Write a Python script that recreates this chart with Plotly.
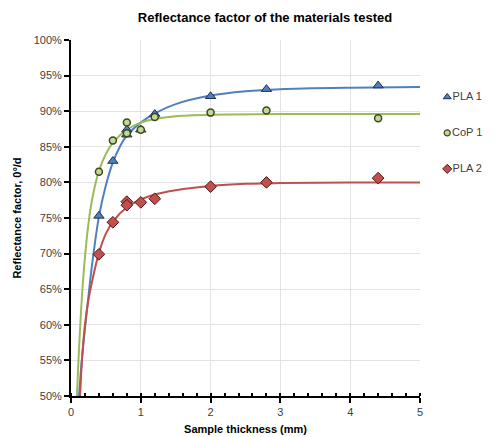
import plotly.graph_objects as go

# Measured points (thickness in mm, reflectance in %)
pla1_x = [0.4, 0.6, 0.8, 0.8, 1.0, 1.2, 2.0, 2.8, 4.4]
pla1_y = [75.3, 83.0, 86.7, 87.4, 87.4, 89.6, 92.1, 93.1, 93.6]
cop1_x = [0.4, 0.6, 0.8, 0.8, 1.0, 1.2, 2.0, 2.8, 4.4]
cop1_y = [81.5, 85.9, 88.4, 86.9, 87.4, 89.2, 89.8, 90.1, 89.0]
pla2_x = [0.4, 0.6, 0.8, 0.8, 1.0, 1.2, 2.0, 2.8, 4.4]
pla2_y = [69.9, 74.4, 77.3, 76.8, 77.2, 77.7, 79.4, 80.0, 80.6]

# Fitted trend curves
pla1_fit_x = [0.115, 0.15, 0.2, 0.25, 0.3, 0.4, 0.5, 0.6, 0.7, 0.8, 1.0, 1.2, 1.5, 2.0, 2.5, 3.0, 4.0, 5.0]
pla1_fit_y = [50, 54.5, 59.5, 64.0, 68.3, 75.2, 79.6, 82.8, 85.0, 86.6, 88.4, 89.7, 91.0, 92.2, 92.8, 93.1, 93.3, 93.4]
cop1_fit_x = [0.085, 0.1, 0.13, 0.16, 0.2, 0.25, 0.3, 0.4, 0.5, 0.6, 0.8, 1.0, 1.2, 1.5, 2.0, 3.0, 5.0]
cop1_fit_y = [50, 53.5, 59.5, 64.5, 69.5, 74.2, 77.5, 81.6, 84.0, 85.6, 87.4, 88.4, 88.9, 89.3, 89.5, 89.6, 89.6]
pla2_fit_x = [0.13, 0.16, 0.2, 0.25, 0.3, 0.4, 0.5, 0.6, 0.8, 1.0, 1.2, 1.5, 2.0, 2.5, 3.0, 4.0, 5.0]
pla2_fit_y = [50, 55.5, 60.0, 63.5, 66.0, 70.1, 72.8, 74.5, 76.5, 77.6, 78.3, 78.9, 79.5, 79.8, 79.9, 80.0, 80.0]

series_names = ["PLA 1", "CoP 1", "PLA 2"]
y_ticks = [50, 55, 60, 65, 70, 75, 80, 85, 90, 95, 100]
y_labels = ["50%", "55%", "60%", "65%", "70%", "75%", "80%", "85%", "90%", "95%", "100%"]
x_ticks = [0, 1, 2, 3, 4, 5]

BLUE = "#4F81BD"
GREEN = "#9BBB59"
RED = "#C0504D"

markers = [
    dict(symbol="triangle-up", size=9, color=BLUE, line=dict(color="#1F2F4F", width=1)),
    dict(symbol="circle", size=7, color="#C4D79B", line=dict(color="#3A4A1A", width=1.5)),
    dict(symbol="diamond", size=9, color=RED, line=dict(color="#4A1A1A", width=1)),
]
legend_markers = [
    dict(symbol="triangle-up", size=7, color=BLUE, line=dict(color="#1F2F4F", width=1)),
    dict(symbol="circle", size=6, color="#C4D79B", line=dict(color="#3A4A1A", width=1.2)),
    dict(symbol="diamond", size=7, color=RED, line=dict(color="#4A1A1A", width=1)),
]

fig = go.Figure()

for fx, fy, col in [(pla1_fit_x, pla1_fit_y, BLUE), (cop1_fit_x, cop1_fit_y, GREEN), (pla2_fit_x, pla2_fit_y, RED)]:
    fig.add_trace(go.Scatter(x=fx, y=fy, mode="lines", line=dict(color=col, width=2, shape="spline", smoothing=0.8),
                             showlegend=False, hoverinfo="skip"))

for name, xs, ys, mk in zip(series_names, [pla1_x, cop1_x, pla2_x], [pla1_y, cop1_y, pla2_y], markers):
    fig.add_trace(go.Scatter(x=xs, y=ys, mode="markers", name=name, marker=mk, showlegend=False))

# Legend drawn on a side axis (rows top to bottom)
legend_rows = [2, 1, 0]
for name, row, mk in zip(series_names, legend_rows, legend_markers):
    fig.add_trace(go.Scatter(x=[0.18], y=[row], mode="markers+text", text=[name], textposition="middle right",
                             textfont=dict(size=11, color="#404040"), marker=mk, xaxis="x2", yaxis="y2",
                             showlegend=False, hoverinfo="skip", cliponaxis=False))

fig.update_layout(
    width=500, height=437,
    margin=dict(l=71, r=0, t=40, b=41, autoexpand=False),
    paper_bgcolor="white", plot_bgcolor="white",
    font=dict(family="Liberation Sans, Arial, sans-serif", size=11, color="#404040"),
    title=dict(text="<b>Reflectance factor of the materials tested</b>", x=0.53, xanchor="center",
               y=1 - 17 / 437, yanchor="middle", font=dict(size=13, color="#000000")),
    showlegend=False,
    xaxis=dict(domain=[0, 349 / 429], range=[0, 5], tickvals=x_ticks, ticks="outside", ticklen=5, tickwidth=2,
               tickcolor="#000", showline=True, linecolor="#000", linewidth=2, showgrid=True, gridcolor="#E3E3E3",
               gridwidth=1, zeroline=False, tickfont=dict(size=11, color="#404040"),
               minor=dict(dtick=0.2, ticks="inside", ticklen=3, tickwidth=1.5, tickcolor="#000", showgrid=False),
               title=dict(text="<b>Sample thickness (mm)</b>", font=dict(size=11, color="#000"), standoff=8)),
    yaxis=dict(range=[50, 100], tickvals=y_ticks, ticktext=y_labels, ticks="outside", ticklen=5,
               tickwidth=2, tickcolor="#000", showline=True, linecolor="#000", linewidth=2,
               showgrid=True, gridcolor="#E3E3E3", gridwidth=1, zeroline=False,
               tickfont=dict(size=11, color="#404040"),
               title=dict(text="<b>Reflectance factor, 0°/d</b>", font=dict(size=11, color="#000"), standoff=10)),
    xaxis2=dict(domain=[0.85, 1.0], range=[0, 1], anchor="y2", visible=False),
    yaxis2=dict(domain=[0.638 - 0.101 * 0.5, 0.840 + 0.101 * 0.5], range=[-0.5, 2.5], anchor="x2", visible=False),
)

fig.write_html("out.html")
